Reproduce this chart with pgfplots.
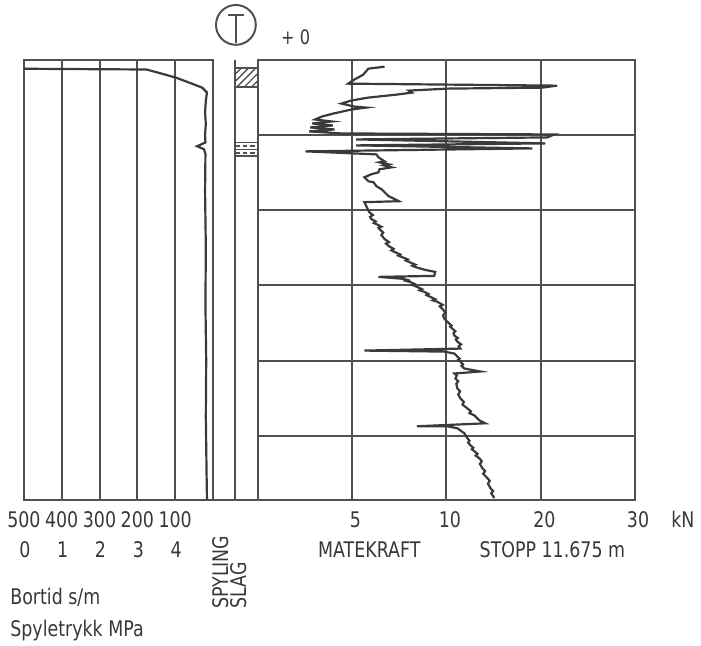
\documentclass[border=0pt]{standalone}
\usepackage{pgfplots}
\pgfplotsset{compat=1.18}
\usepackage{fontspec}
\setmainfont{DejaVu Sans}[FakeStretch=0.81]
\usetikzlibrary{patterns.meta}
\definecolor{gc}{HTML}{505050}
\definecolor{cc}{HTML}{3A3A3A}
\definecolor{tc}{HTML}{383838}

\pgfplotsset{panel/.style={scale only axis, anchor=north west,
  ymin=0, ymax=11.7, y dir=reverse,
  axis line style={draw=gc, line width=1pt},
  grid style={draw=gc, line width=1pt},
  major tick length=0pt, xticklabels={}, yticklabels={}}}

\begin{document}
\begin{tikzpicture}[x=0.5pt,y=-0.5pt]
\path (0,0) rectangle (701,649);

% ---------- Bortid panel ----------
\begin{axis}[panel, at={(12pt,-30pt)}, width=95pt, height=221pt,
  xmin=0, xmax=500, x dir=reverse, xtick={100,200,300,400}, ytick=\empty, xmajorgrids]
\addplot[cc, line width=1.1pt] table {
x y
500 0.24
176 0.26
150 0.33
125 0.40
97 0.48
60 0.62
29 0.74
16 0.87
19 1.1
21 1.4
19 1.7
21 2.0
20 2.2
42 2.30
24 2.38
20 2.5
21 3.5
19 5.0
20 6.5
18 8.0
19 9.5
17 11.0
16 11.68
};
\end{axis}

% ---------- Spyling / Slag column ----------
\begin{axis}[panel, at={(107pt,-30pt)}, width=22.5pt, height=221pt,
  xmin=0, xmax=2, hide axis, clip=false]
\addplot[gc, line width=1pt] coordinates {(1,0) (1,11.7)};
\addplot[gc, line width=1pt] coordinates {(0,11.7) (2,11.7)};
\addplot[draw=gc, line width=0.9pt, pattern={Lines[angle=45,distance=2.6pt,line width=0.7pt]}, pattern color=gc]
  coordinates {(1,0.21) (2,0.21) (2,0.72) (1,0.72) (1,0.21)};
\addplot[draw=gc, line width=0.9pt] coordinates {(1,2.20) (2,2.20) (2,2.57) (1,2.57) (1,2.20)};
\addplot[draw=gc, line width=0.9pt] coordinates {(1,2.385) (2,2.385)};
\addplot[draw=gc, line width=0.9pt, dash pattern=on 2.4pt off 1.2pt] coordinates {(1,2.29) (2,2.29)};
\addplot[draw=gc, line width=0.9pt, dash pattern=on 2.4pt off 1.2pt] coordinates {(1,2.48) (2,2.48)};
\end{axis}

% ---------- Matekraft panel ----------
\begin{axis}[panel, at={(129.5pt,-30pt)}, width=189.5pt, height=221pt,
  x coord trafo/.code={\pgfmathparse{min(#1,10)/5+max(#1-10,0)/10}},
  xmin=0, xmax=30, xtick={5,10,20}, ytick={2,4,6,8,10}, grid=major]
\addplot[cc, line width=1.1pt] table {
x y
6.72 0.185
5.86 0.238
5.59 0.397
5.11 0.530
4.79 0.636
21.74 0.689
20.16 0.742
10.1 0.768
8.01 0.821
8.17 0.874
7.37 0.927
5.86 1.007
4.95 1.086
4.43 1.166
5.11 1.245
5.75 1.272
4.95 1.325
4.02 1.430
3.40 1.510
3.04 1.589
3.92 1.642
2.89 1.695
3.97 1.748
2.78 1.801
4.07 1.854
2.73 1.907
4.43 1.960
21.43 1.987
20.69 2.066
5.22 2.119
20.48 2.225
5.22 2.278
19.10 2.358
2.53 2.437
6.29 2.517
6.40 2.596
6.72 2.702
6.45 2.728
6.94 2.781
6.67 2.808
7.10 2.861
6.45 2.914
6.40 2.993
6.02 3.046
5.65 3.126
5.86 3.232
6.13 3.258
6.29 3.364
6.56 3.444
6.72 3.523
6.94 3.629
7.47 3.762
5.65 3.788
5.75 3.894
5.91 4.053
6.10 4.13
5.95 4.18
6.02 4.238
6.25 4.30
6.15 4.34
6.29 4.371
6.55 4.44
6.40 4.47
6.45 4.503
6.65 4.60
6.55 4.66
6.72 4.768
6.95 4.85
6.80 4.89
6.94 4.954
7.20 5.03
7.08 5.07
7.26 5.113
7.55 5.18
7.45 5.21
7.63 5.245
7.95 5.31
7.85 5.34
8.01 5.377
8.35 5.45
8.20 5.48
8.33 5.510
8.87 5.589
9.41 5.642
9.35 5.748
6.40 5.775
7.74 5.828
7.95 5.86
7.85 5.88
8.06 5.907
8.30 5.96
8.20 5.99
8.44 6.040
8.70 6.10
8.58 6.13
8.82 6.172
9.05 6.23
8.95 6.26
9.14 6.305
9.40 6.37
9.28 6.40
9.52 6.437
9.80 6.52
9.65 6.56
9.78 6.623
9.95 6.72
9.82 6.80
9.89 6.887
10.32 7.020
10.55 7.07
10.40 7.10
10.63 7.152
10.95 7.22
10.75 7.27
10.85 7.338
11.20 7.40
11.00 7.44
11.16 7.497
11.55 7.57
11.30 7.62
11.48 7.682
5.65 7.735
9.89 7.762
10.85 7.815
11.16 7.894
11.40 7.95
11.25 7.98
11.48 8.026
11.75 8.10
11.60 8.14
11.90 8.212
13.60 8.291
10.85 8.344
11.10 8.40
10.95 8.477
11.25 8.55
11.05 8.62
11.16 8.742
11.45 8.82
11.25 8.90
11.48 9.007
11.85 9.10
11.70 9.17
12.22 9.272
12.60 9.35
12.45 9.40
12.96 9.457
13.49 9.589
14.13 9.669
8.44 9.748
10.11 9.748
11.16 9.801
11.90 9.934
12.22 10.066
12.45 10.13
12.30 10.18
12.54 10.252
12.85 10.32
12.70 10.36
12.96 10.411
13.30 10.48
13.10 10.53
13.49 10.596
13.75 10.68
13.55 10.75
13.81 10.861
14.10 10.94
13.90 11.01
14.34 11.126
14.60 11.20
14.40 11.27
14.66 11.391
14.95 11.47
14.75 11.53
15.08 11.656
};
\end{axis}

% ---------- header symbol ----------
\draw[gc, line width=1pt] (237,25) circle[radius=10pt];
\draw[gc, line width=1pt] (229,15) -- (245,15) (237,15) -- (237,43);
\node[tc, anchor=base, font=\fontsize{10}{12}\selectfont] at (297,45) {+ 0};

% ---------- bottom labels ----------
\begin{scope}[every node/.style={tc, font=\fontsize{10.8}{13}\selectfont}]
\node[anchor=base] at (24,530) {500};
\node[anchor=base] at (62,530) {400};
\node[anchor=base] at (100,530) {300};
\node[anchor=base] at (138,530) {200};
\node[anchor=base] at (176,530) {100};
\node[anchor=base] at (357,530) {5};
\node[anchor=base] at (452,530) {10};
\node[anchor=base] at (547,530) {20};
\node[anchor=base] at (641,530) {30};
\node[anchor=base] at (686,530) {kN};
\node[anchor=base] at (25,560) {0};
\node[anchor=base] at (63,560) {1};
\node[anchor=base] at (101,560) {2};
\node[anchor=base] at (139,560) {3};
\node[anchor=base] at (177,560) {4};
\node[anchor=base] at (371,560) {MATEKRAFT};
\node[anchor=base] at (555,560) {STOPP 11.675 m};
\node[anchor=base west, inner sep=0pt] at (10,607) {Bortid s/m};
\node[anchor=base west, inner sep=0pt] at (10,639) {Spyletrykk MPa};
\node[rotate=90, anchor=base west, inner sep=0pt] at (230,612) {SPYLING};
\node[rotate=90, anchor=base west, inner sep=0pt] at (248,612) {SLAG};
\end{scope}
\end{tikzpicture}
\end{document}
